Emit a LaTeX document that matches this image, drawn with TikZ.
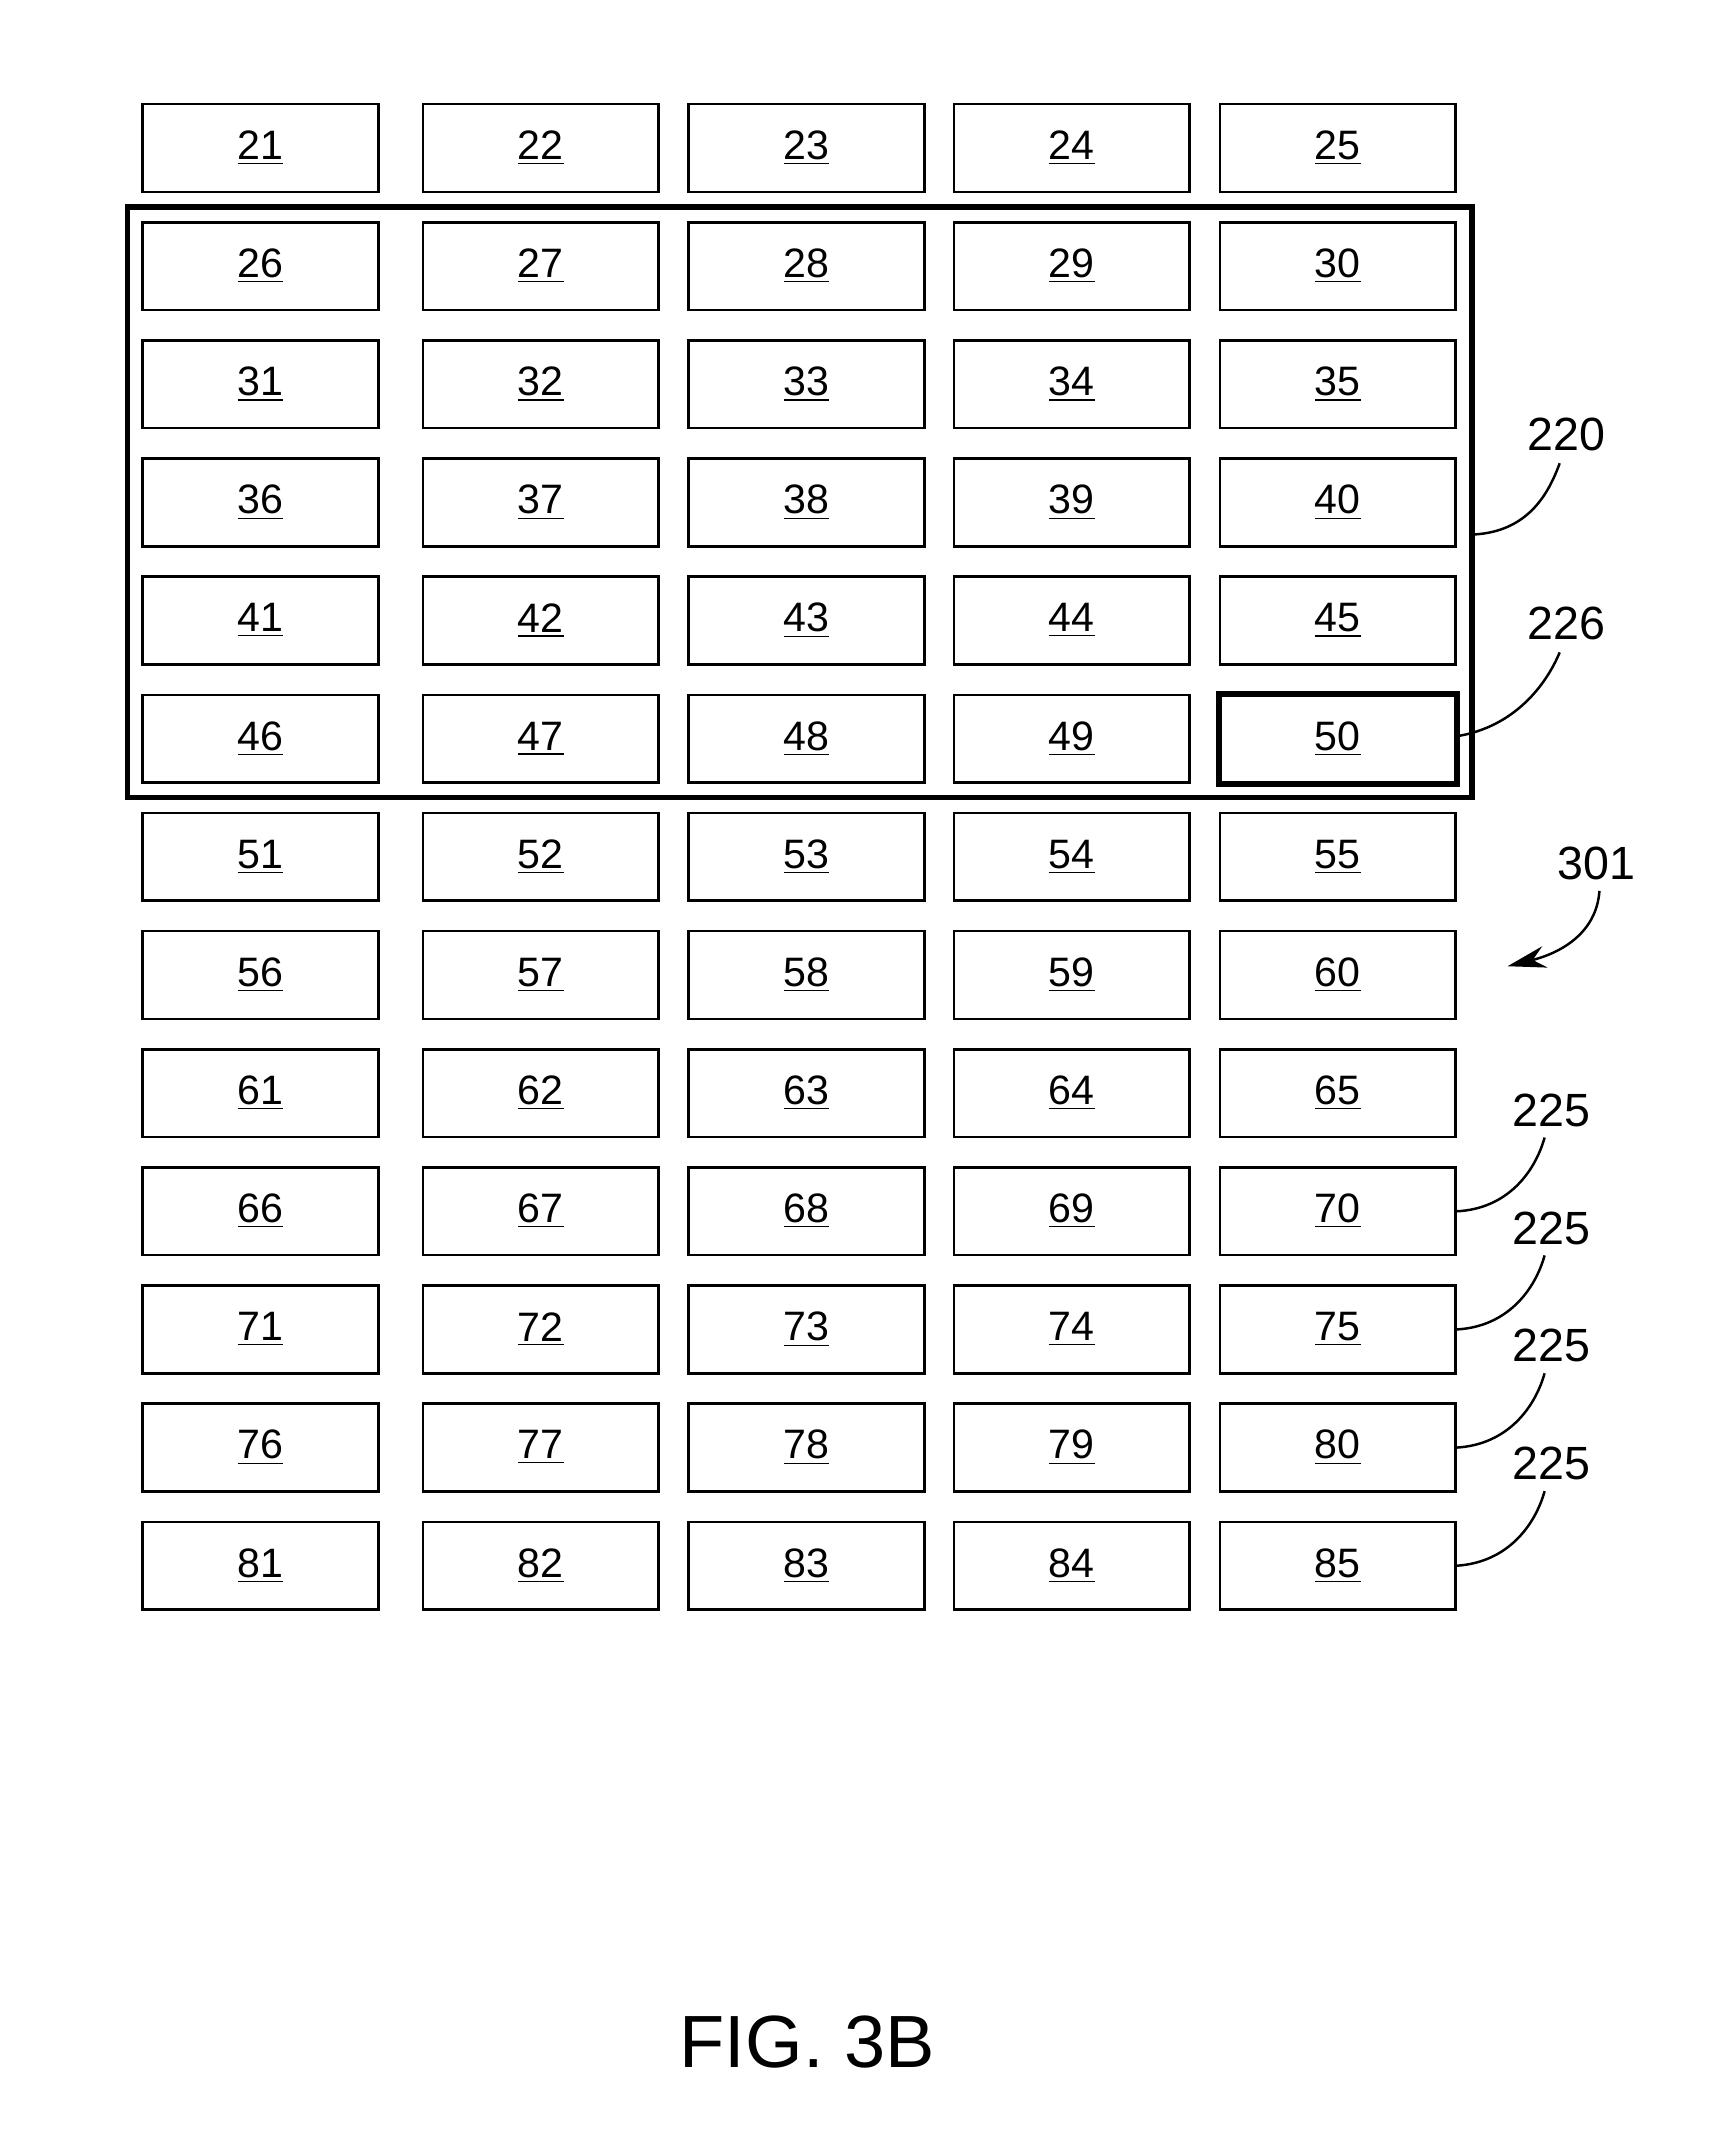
\documentclass[tikz,border=0pt]{standalone}
\usepackage{fontspec}
\usetikzlibrary{arrows.meta}
\setmainfont{Liberation Sans}
\begin{document}
\begin{tikzpicture}[x=0.5pt,y=-0.5pt,
  cell/.style={draw,line width=0.9pt,minimum width=86pt,minimum height=32pt,inner sep=0pt,font=\fontsize{15}{18}\selectfont},
  lbl/.style={font=\fontsize{17}{20}\selectfont},
  lead/.style={line width=0.9pt}]
\useasboundingbox (0,0) rectangle (1254,1568);
\fill[white] (0,0) rectangle (1254,1568);
\foreach \r in {0,...,12}{
  \foreach \c/\x in {1/190,2/394.5,3/588.5,4/782,5/976}{
    \pgfmathtruncatemacro{\n}{21+5*\r+\c-1}
    \node[cell] (b\n) at (\x,{108+86.2*\r}) {\underline{\n}};
  }}
\node[draw,line width=2pt,minimum width=490.5pt,minimum height=215.5pt,inner sep=0pt] (g220) at (583.5,366.5) {};
\draw[line width=2.2pt] (b50.south west) rectangle (b50.north east);
\node[lbl] (t220) at (1143,317) {220};
\node[lbl] (t226) at (1143,455) {226};
\node[lbl] (t301) at (1165,630) {301};
\draw[lead] (1075,390) .. controls (1115,388) and (1130,360) .. (1138,338);
\draw[lead] (1064,537) .. controls (1105,530) and (1128,500) .. (1138,476);
\draw[lead,-{Stealth[length=14pt,width=8pt]}] (1167,650) .. controls (1165,680) and (1140,695) .. (1100,705);
\foreach \k/\y in {70/810,75/896,80/982,85/1068}{
  \node[lbl] (t\k) at (1132,\y) {225};
  \draw[lead] (b\k.east) .. controls (1100,{\y+72}) and (1120,{\y+45}) .. (1127,{\y+20});
}
\node[font=\fontsize{27}{32}\selectfont] (fig) at (589,1490) {FIG. 3B};
\end{tikzpicture}
\end{document}
